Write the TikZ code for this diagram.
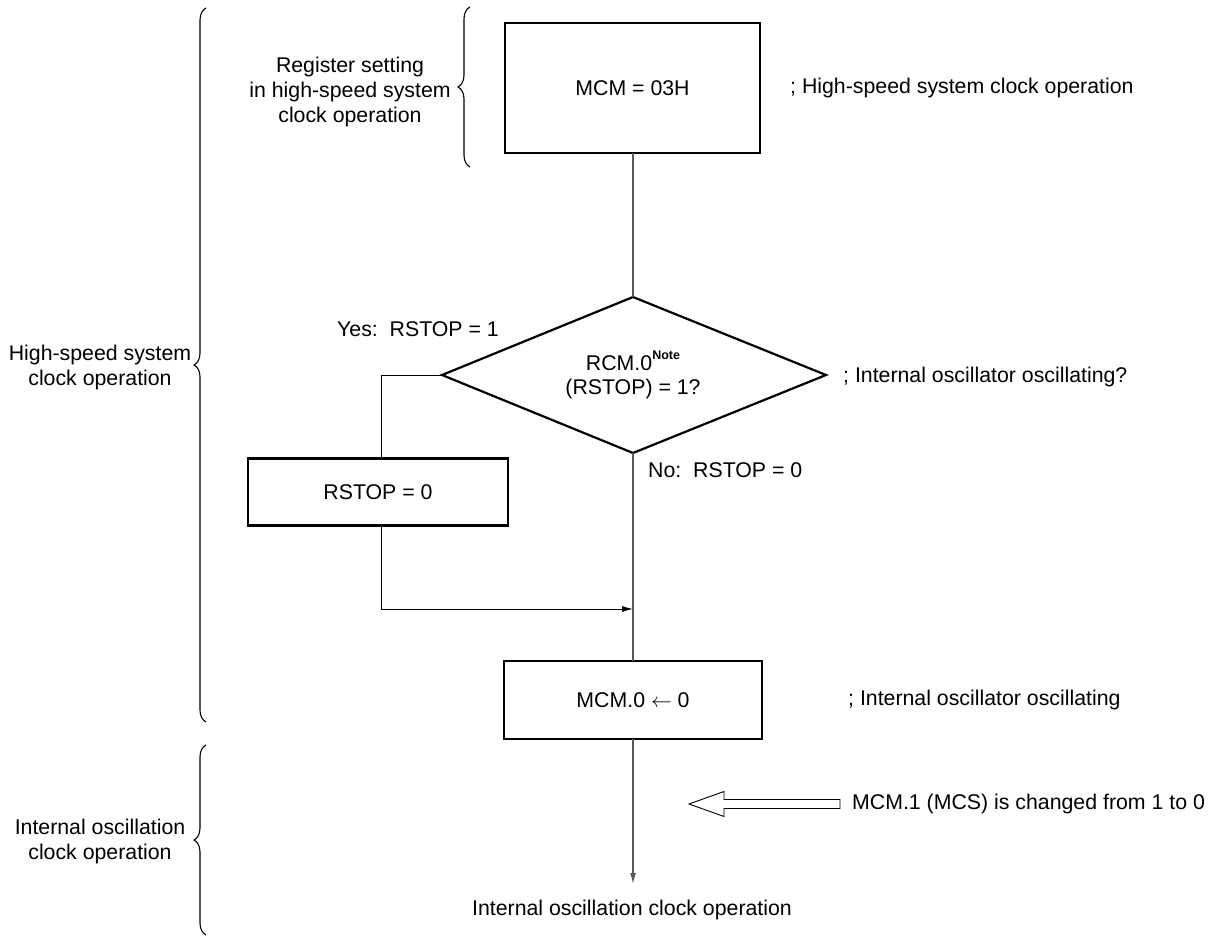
\documentclass[tikz,border=0pt]{standalone}
\usepackage{fontspec}
\setmainfont{Liberation Sans}
\usetikzlibrary{decorations.pathreplacing,arrows.meta}
\begin{document}
\begin{tikzpicture}[x=1pt,y=-1pt,
  font=\fontsize{21.3}{25}\selectfont,
  box/.style={draw,line width=2.4pt,inner sep=0pt,outer sep=0pt},
  flow/.style={draw=black!65,line width=1.3pt},
  thin/.style={draw=black,line width=0.9pt},
  lbl/.style={inner sep=0pt,anchor=west},
  grp/.style={inner sep=0pt,align=center},
  brc/.style={decorate,decoration={brace,amplitude=12pt},line width=1.1pt}]
\useasboundingbox (0,0) rectangle (1218,936);

% boxes
\node[box,minimum width=255,minimum height=130] (mcm) at (632.5,88) {MCM = 03H};
\node[inner sep=0pt,align=center] (dia) at (633,375)
  {RCM.0\raisebox{0.55em}{\fontsize{12.5}{12}\selectfont\bfseries Note}\\[-1pt](RSTOP) = 1?};
\coordinate (dN) at (633,297);
\coordinate (dS) at (633,453);
\coordinate (dW) at (442,375);
\coordinate (dE) at (826,375);
\draw[line width=2.2pt,line join=miter] (dN) -- (dE) -- (dS) -- (dW) -- cycle;
\node[box,minimum width=260,minimum height=67] (rs) at (378,492) {RSTOP = 0};
\node[box,minimum width=258,minimum height=78] (m0) at (633,700) {MCM.0 $\leftarrow$ 0};
\node[inner sep=0pt] (fin) at (632,910) {Internal oscillation clock operation};

% labels
\node[lbl] (l1) at (790,88) {; High-speed system clock operation};
\node[lbl] (l2) at (843,377) {; Internal oscillator oscillating?};
\node[lbl] (l3) at (848,700) {; Internal oscillator oscillating};
\node[lbl] (yes) at (337,329) {Yes:\ \ RSTOP = 1};
\node[lbl] (no) at (648,470) {No:\ \ RSTOP = 0};
\node[lbl] (chg) at (852,804) {MCM.1 (MCS) is changed from 1 to 0};

% group labels
\node[grp] (g1) at (350,92) {Register setting\\in high-speed system\\clock operation};
\node[grp] (g2) at (100,367) {High-speed system\\clock operation};
\node[grp] (g3) at (100,841) {Internal oscillation\\clock operation};

% braces
\draw[brc] (470,167) -- (470,7);
\draw[brc] (206,722) -- (206,8);
\draw[brc] (206,935) -- (206,745);

% connectors
\coordinate (jn) at (633,609);
\coordinate (endp) at (633,884);
\draw[flow] (mcm.south -| dN) -- (dN);
\draw[flow] (dS) -- (m0.north);
\draw[flow,-{Latex[length=11pt,width=6pt]}] (m0.south) -- (endp);
\draw[thin] (dW) -| ([xshift=3pt]rs.north);
\draw[thin,-{Latex[length=11pt,width=6pt]}] ([xshift=3pt]rs.south) |- (jn);

% hollow arrow
\draw[line width=0.9pt] (chg.west) ++(-12,-4.5) coordinate (a0) -- ++(-116,0) -- ++(0,-8) -- ++(-35,12.5) -- ++(35,12.5) -- ++(0,-8) -- ++(116,0) -- cycle;
\end{tikzpicture}
\end{document}
